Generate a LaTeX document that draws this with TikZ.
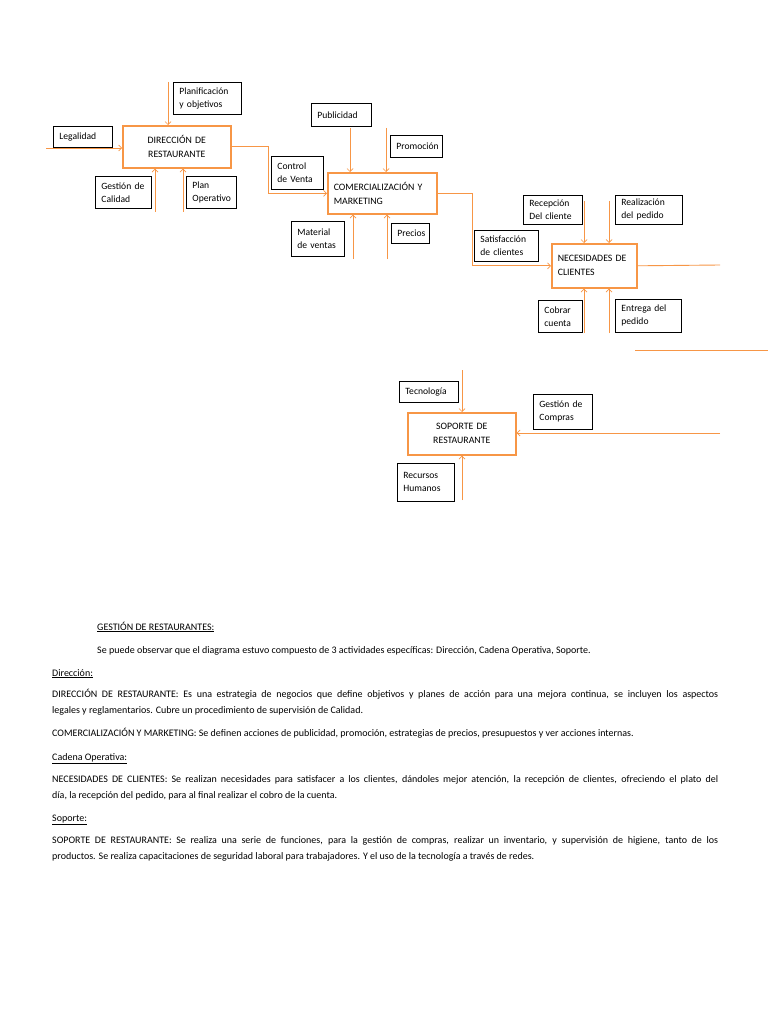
\documentclass[tikz,border=0pt]{standalone}
\usepackage{fontspec}
\setmainfont{Carlito}
\usetikzlibrary{arrows.meta,calc,positioning}
\definecolor{naranja}{RGB}{247,150,70}

\tikzset{
  etiqueta/.style={draw=black,line width=0.8pt,anchor=north west,align=left,
    inner xsep=6pt,inner ysep=1pt,font=\fontsize{9.6}{13}\selectfont},
  proceso/.style={draw=naranja,line width=1.6pt,anchor=north west,
    inner xsep=6pt,inner ysep=1pt,font=\fontsize{9.8}{14}\selectfont},
  flecha/.style={naranja,line width=0.7pt,->},
  linea/.style={naranja,line width=0.9pt},
  parrafo/.style={anchor=base west,inner sep=0pt,font=\fontsize{10}{16}\selectfont},
}

\begin{document}
\begin{tikzpicture}[x=1pt,y=-1pt,>={Straight Barb[length=3pt,width=6pt]}]
  \fill[white] (0,0) rectangle (768,1024);
  \useasboundingbox (0,0) rectangle (768,1024);

  % direccion
  \node[proceso,text width=96pt,minimum height=42pt,align=center] (dir) at (122,125) {DIRECCIÓN DE\\RESTAURANTE};
  \node[etiqueta,text width=56pt,minimum height=32pt] (planif) at (173,82) {Planificación\\y objetivos};
  \node[etiqueta,text width=47pt,minimum height=21pt] (legal) at (53,126) {Legalidad};
  \node[etiqueta,text width=44pt,minimum height=32pt] (gcal) at (95,176) {Gestión~de\\Calidad};
  \node[etiqueta,text width=38pt,minimum height=32pt] (planop) at (186,176) {Plan\\Operativo};
  \coordinate (e-planif) at (168,82);
  \coordinate (e-legal) at (46,148);
  \coordinate (e-gcal) at (155,212);
  \coordinate (e-planop) at (183,212);
  \draw[flecha] (e-planif) -- (e-planif |- dir.north);
  \draw[flecha] (e-legal) -- (e-legal -| dir.west);
  \draw[flecha] (e-gcal) -- (e-gcal |- dir.south);
  \draw[flecha] (e-planop) -- (e-planop |- dir.south);

  % comercializacion
  \node[proceso,text width=97pt,minimum height=41pt,align=left] (com) at (327,172) {COMERCIALIZACIÓN~Y\\MARKETING};
  \node[etiqueta,text width=40pt,minimum height=33pt] (control) at (271,156) {Control\\de~Venta};
  \node[etiqueta,text width=48pt,minimum height=23pt] (publi) at (311,103) {Publicidad};
  \node[etiqueta,text width=40pt,minimum height=22pt] (promo) at (390,135) {Promoción};
  \node[etiqueta,text width=41pt,minimum height=35pt] (material) at (291,221) {Material\\de~ventas};
  \node[etiqueta,text width=26pt,minimum height=20pt] (precios) at (391,223) {Precios};
  \coordinate (e-publi) at (350,128);
  \coordinate (e-promo) at (386,128);
  \coordinate (e-material) at (353,259);
  \coordinate (e-precios) at (387,259);
  \draw[flecha] (dir.east) -- ++(37,0) |- (com.west);
  \draw[flecha] (e-publi) -- (e-publi |- com.north);
  \draw[flecha] (e-promo) -- (e-promo |- com.north);
  \draw[flecha] (e-material) -- (e-material |- com.south);
  \draw[flecha] (e-precios) -- (e-precios |- com.south);

  % necesidades
  \node[proceso,text width=73pt,minimum height=44pt,align=left] (nec) at (551,243) {NECESIDADES~DE\\CLIENTES};
  \node[etiqueta,text width=52pt,minimum height=31pt] (satis) at (474,230) {Satisfacción\\de~clientes};
  \node[etiqueta,text width=47pt,minimum height=29pt] (recep) at (523,195) {Recepción\\Del~cliente};
  \node[etiqueta,text width=55pt,minimum height=29pt] (realiz) at (615,195) {Realización\\del~pedido};
  \node[etiqueta,text width=32pt,minimum height=32pt] (cobrar) at (538,300) {Cobrar\\cuenta};
  \node[etiqueta,text width=54pt,minimum height=33pt] (entrega) at (615,299) {Entrega~del\\pedido};
  \coordinate (e-recep) at (584,201);
  \coordinate (e-realiz) at (609,201);
  \coordinate (e-cobrar) at (584,333);
  \coordinate (e-entrega) at (609,333);
  \coordinate (s-nec) at (720,265);
  \coordinate (l-a) at (635,350);
  \coordinate (l-b) at (768,350);
  \draw[flecha] (com.east) -- ++(35,0) |- (nec.west);
  \draw[flecha] (e-recep) -- (e-recep |- nec.north);
  \draw[flecha] (e-realiz) -- (e-realiz |- nec.north);
  \draw[flecha] (e-cobrar) -- (e-cobrar |- nec.south);
  \draw[flecha] (e-entrega) -- (e-entrega |- nec.south);
  \draw[linea] (nec.east) -- (s-nec);
  \draw[linea] (l-a) -- (l-b);

  % soporte
  \node[proceso,text width=96pt,minimum height=42pt,align=center] (sop) at (407,412) {SOPORTE DE\\RESTAURANTE};
  \node[etiqueta,text width=47pt,minimum height=21pt] (tecno) at (399,381) {Tecnología};
  \node[etiqueta,text width=47pt,minimum height=35pt] (gcomp) at (533,394) {Gestión~de\\Compras};
  \node[etiqueta,text width=45pt,minimum height=38pt] (rrhh) at (397,463) {Recursos\\Humanos};
  \coordinate (e-tecno) at (462,370);
  \coordinate (e-gcomp) at (720,433);
  \coordinate (e-rrhh) at (462,500);
  \draw[flecha] (e-tecno) -- (e-tecno |- sop.north);
  \draw[flecha] (e-gcomp) -- (e-gcomp -| sop.east);
  \draw[flecha] (e-rrhh) -- (e-rrhh |- sop.south);

  % texto
  \node[parrafo] (t1) at (97,630) {\underline{GESTIÓN DE RESTAURANTES:}};
  \node[parrafo] (t2) at (97,653) {Se puede observar que el diagrama estuvo compuesto de 3 actividades específicas: Dirección, Cadena Operativa, Soporte.};
  \node[parrafo] (t3) at (52,676) {\underline{Dirección:}};
  \node[parrafo] (t4) at (52,697) {\makebox[666pt][s]{DIRECCIÓN DE RESTAURANTE: Es una estrategia de negocios que define objetivos y planes de acción para una mejora continua, se incluyen los aspectos}};
  \node[parrafo] (t5) at (52,713) {legales y reglamentarios. Cubre un procedimiento de supervisión de Calidad.};
  \node[parrafo] (t6) at (52,736) {COMERCIALIZACIÓN Y MARKETING: Se definen acciones de publicidad, promoción, estrategias de precios, presupuestos y ver acciones internas.};
  \node[parrafo] (t7) at (52,760) {\underline{Cadena Operativa:}};
  \node[parrafo] (t8) at (52,782) {\makebox[666pt][s]{NECESIDADES DE CLIENTES: Se realizan necesidades para satisfacer a los clientes, dándoles mejor atención, la recepción de clientes, ofreciendo el plato del}};
  \node[parrafo] (t9) at (52,798) {día, la recepción del pedido, para al final realizar el cobro de la cuenta.};
  \node[parrafo] (t10) at (52,821) {\underline{Soporte:}};
  \node[parrafo] (t11) at (52,843) {\makebox[666pt][s]{SOPORTE DE RESTAURANTE: Se realiza una serie de funciones, para la gestión de compras, realizar un inventario, y supervisión de higiene, tanto de los}};
  \node[parrafo] (t12) at (52,859) {productos. Se realiza capacitaciones de seguridad laboral para trabajadores. Y el uso de la tecnología a través de redes.};
\end{tikzpicture}
\end{document}
